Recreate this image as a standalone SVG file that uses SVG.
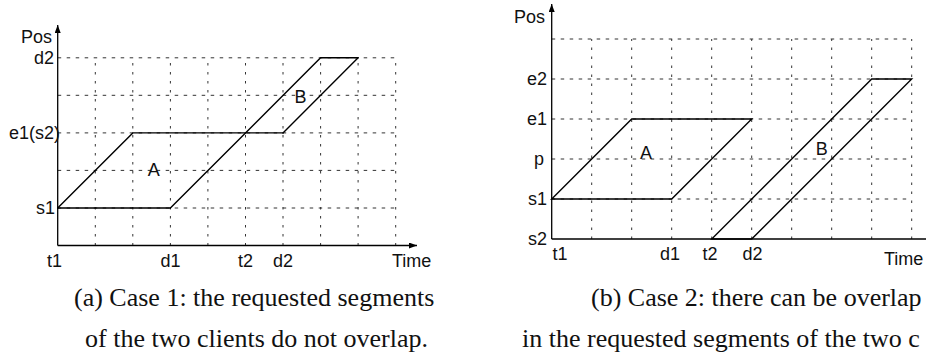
<svg xmlns="http://www.w3.org/2000/svg" width="926" height="353" viewBox="0 0 926 353">
<style>
.grid{stroke:#333;stroke-width:1;fill:none}
.gh{stroke-dasharray:3.5 5.5}
.gv{stroke-dasharray:2.5 6.5}
.ax{stroke:#000;stroke-width:1.3;fill:none}
.ln{stroke:#000;stroke-width:1.4;fill:none;stroke-linecap:round}
.lb{font-family:"Liberation Sans",Arial,sans-serif;font-size:18px;fill:#111}
.cap{font-family:"Liberation Serif","Times New Roman",serif;font-size:26px;fill:#111}
</style>
<defs>
<marker id="arr" markerWidth="8" markerHeight="6" refX="8" refY="3" orient="auto" markerUnits="userSpaceOnUse">
<path d="M0,0 L8,3 L0,6 z" fill="#000"/>
</marker>
</defs>

<g id="chartA">
<g id="gridA" class="grid">
<path class="gh" d="M57.7,208H395.7M57.7,170.4H395.7M57.7,132.9H395.7M57.7,95.3H395.7M57.7,57.8H395.7"/>
<path class="gv" d="M95.3,245.5V57.8M132.8,245.5V57.8M170.4,245.5V57.8M207.9,245.5V57.8M245.5,245.5V57.8M283,245.5V57.8M320.6,245.5V57.8M358.1,245.5V57.8M395.7,245.5V57.8"/>
</g>
<g id="axesA">
<line class="ax" x1="57.7" y1="245.5" x2="57.7" y2="25" marker-end="url(#arr)"/>
<line class="ax" x1="57.7" y1="245.5" x2="417" y2="245.5" marker-end="url(#arr)"/>
</g>
<g id="connectorsA">
<path class="ln" d="M57.7,208H170.4"/>
<path class="ln" d="M57.7,208L132.8,132.9H283"/>
<path class="ln" d="M170.4,208L320.6,57.8H358.1"/>
<path class="ln" d="M283,132.9L358.1,57.8"/>
</g>
<g id="labelsA" class="lb">
<text x="52" y="43" text-anchor="end">Pos</text>
<text x="54" y="64" text-anchor="end">d2</text>
<text x="60" y="139" text-anchor="end">e1(s2)</text>
<text x="55" y="214" text-anchor="end">s1</text>
<text x="54.5" y="267" text-anchor="middle">t1</text>
<text x="170.4" y="267" text-anchor="middle">d1</text>
<text x="245.5" y="267" text-anchor="middle">t2</text>
<text x="283" y="267" text-anchor="middle">d2</text>
<text x="392" y="267">Time</text>
<text x="153.7" y="175.5" text-anchor="middle">A</text>
<text x="300.5" y="103" text-anchor="middle">B</text>
</g>
</g>

<g id="chartB">
<g id="gridB" class="grid">
<path class="gh" d="M551.7,199H911.7M551.7,159H911.7M551.7,119H911.7M551.7,79H911.7M551.7,39H911.7"/>
<path class="gv" d="M591.7,239V39M631.7,239V39M671.7,239V39M711.7,239V39M751.7,239V39M791.7,239V39M831.7,239V39M871.7,239V39M911.7,239V39"/>
</g>
<g id="axesB">
<line class="ax" x1="551.7" y1="239" x2="551.7" y2="4" marker-end="url(#arr)"/>
<line class="ax" x1="551.7" y1="239" x2="940" y2="239"/>
</g>
<g id="connectorsB">
<path class="ln" d="M551.7,199H671.7L751.7,119H631.7Z"/>
<path class="ln" d="M711.7,239H751.7L911.7,79H871.7Z"/>
</g>
<g id="labelsB" class="lb">
<text x="545" y="23" text-anchor="end">Pos</text>
<text x="547" y="85" text-anchor="end">e2</text>
<text x="547" y="125" text-anchor="end">e1</text>
<text x="544" y="165" text-anchor="end">p</text>
<text x="547" y="205" text-anchor="end">s1</text>
<text x="547" y="245" text-anchor="end">s2</text>
<text x="560" y="260" text-anchor="middle">t1</text>
<text x="670" y="260" text-anchor="middle">d1</text>
<text x="710" y="260" text-anchor="middle">t2</text>
<text x="752.5" y="260" text-anchor="middle">d2</text>
<text x="884" y="265">Time</text>
<text x="646" y="159" text-anchor="middle">A</text>
<text x="821.7" y="155" text-anchor="middle">B</text>
</g>
</g>

<g id="captions" class="cap">
<text x="74" y="306">(a) Case 1: the requested segments</text>
<text x="85" y="347">of the two clients do not overlap.</text>
<text x="591" y="306">(b) Case 2: there can be overlap</text>
<text x="522" y="347">in the requested segments of the two c</text>
</g>
</svg>
